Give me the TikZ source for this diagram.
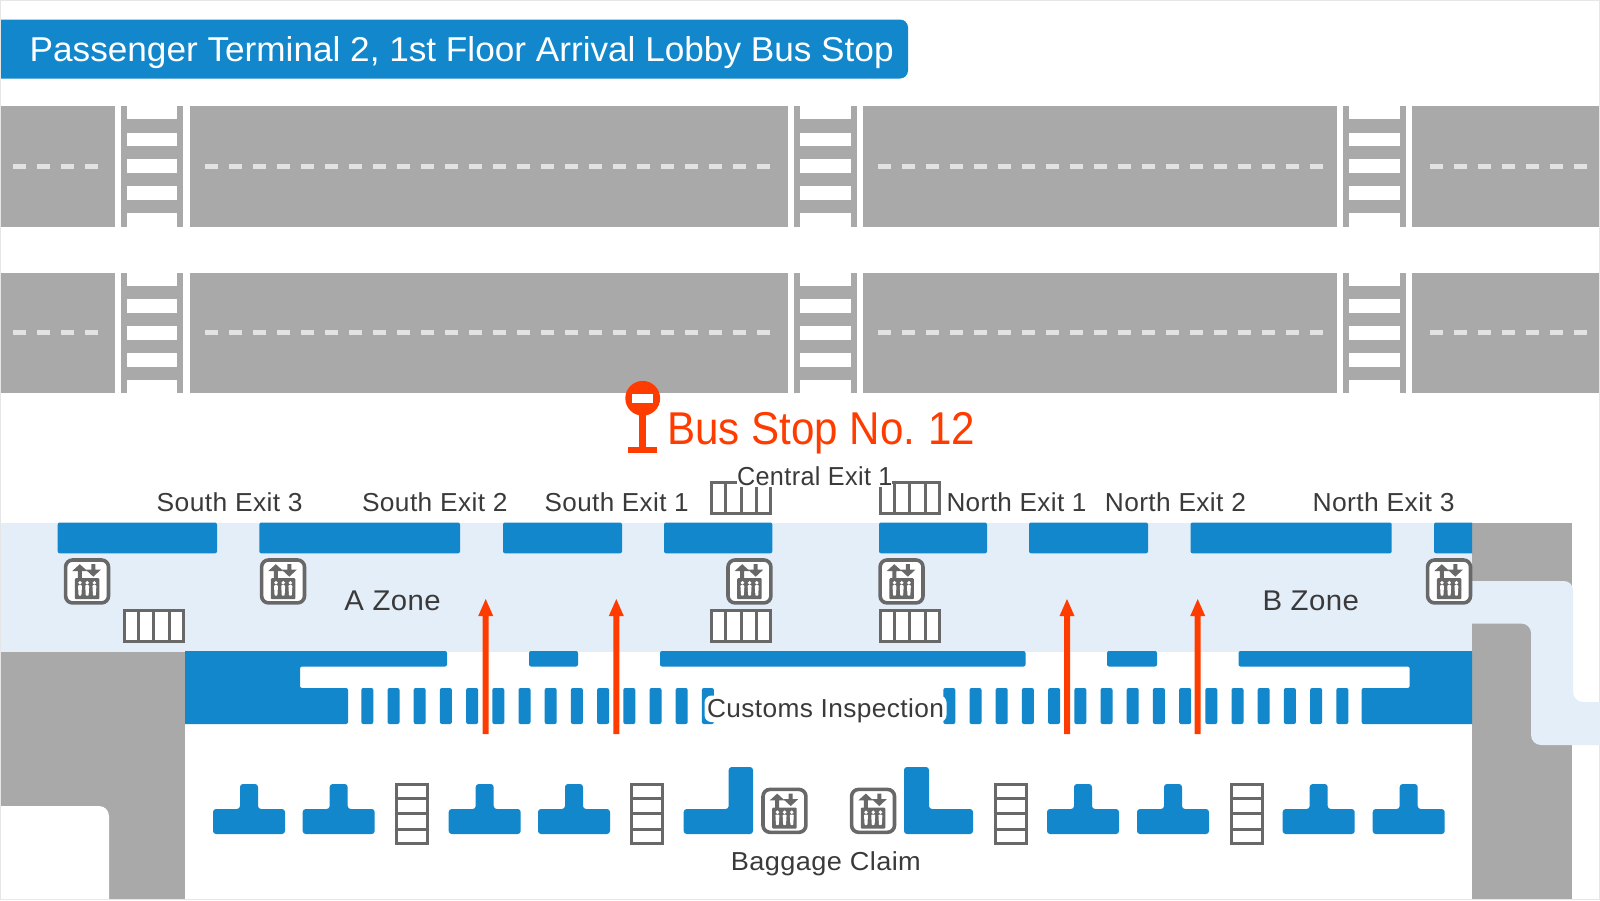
\documentclass[tikz,border=0pt]{standalone}
\usepackage{fontspec}
\usepackage{graphicx}
\setmainfont{Liberation Sans}
\newfontfamily\spacedsans[LetterSpace=1.5]{Liberation Sans}
\definecolor{mapblue}{HTML}{1287CC}
\definecolor{zonepale}{HTML}{E4EEF9}
\definecolor{roadgrey}{HTML}{A9A9A9}
\definecolor{dashgrey}{HTML}{E2E2E2}
\definecolor{icongrey}{HTML}{686868}
\definecolor{labelc}{HTML}{3A3A3A}
\definecolor{redc}{HTML}{FF3C00}
\definecolor{framec}{HTML}{E6E6E6}
\newsavebox\fitbox
\newcommand\fitw[2]{\sbox\fitbox{#2}\pgfmathsetmacro\fitr{#1/\the\wd\fitbox}\scalebox{\fitr}[1]{\usebox\fitbox}}
\newcommand\lab[6]{\node[labeltext] (#1) at (#2,#3) {\fitw{#4}{\fontsize{#5}{#5}\selectfont\spacedsans #6}};}
\tikzset{
  labeltext/.style={anchor=base west,inner sep=0pt,text=labelc},
  gridline/.style={draw=icongrey,line width=3pt,fill=white},
  bluefill/.style={fill=mapblue,rounded corners=2pt},
  hgrid/.pic={
    \draw[gridline] (1.5,1.5) rectangle (60.5,32.5);
    \foreach \i in {15.5,30.9,46.3} \draw[draw=icongrey,line width=3pt] (\i,0) -- (\i,34);
  },
  vgrid/.pic={
    \draw[gridline] (1.5,1.5) rectangle (32.5,60.5);
    \foreach \i in {15.5,30.9,46.3} \draw[draw=icongrey,line width=3pt] (0,\i) -- (34,\i);
  },
  tclaim/.pic={
    \fill[fill=mapblue,rounded corners=3pt] (0,25) -- (27,25) -- (27,0) -- (45,0) -- (45,25) -- (72,25) -- (72,50) -- (0,50) -- cycle;
  },
  elevicon/.pic={
    \draw[draw=icongrey,fill=white,line width=3.6pt,rounded corners=7pt] (1.8,1.8) rectangle (44.7,44.7);
    \fill[icongrey,rounded corners=1pt] (11,20) rectangle (35.5,41);
    \fill[icongrey] (16,6) -- (23.5,12.8) -- (18,12.8) -- (18,21) -- (14,21) -- (14,12.8) -- (8.5,12.8) -- cycle;
    \fill[icongrey] (29.5,18.5) -- (22,11.5) -- (27.5,11.5) -- (27.5,6) -- (31.5,6) -- (31.5,11.5) -- (37,11.5) -- cycle;
    \foreach \i in {16.2,23.4,30.6} {
      \fill[white] (\i,24.6) circle (1.9pt);
      \fill[white,rounded corners=.8pt] (\i-2,27) -- (\i+2,27) -- (\i+1.4,37.5) -- (\i-1.4,37.5) -- cycle;
    }
  },
  roadpiece/.pic={
    \foreach \a/\b in {1/114.7,189.5/788,863/1337,1411.7/1598.5} \fill[roadgrey] (\a,0) rectangle (\b,120.5);
    \foreach \a in {121,794.4,1343.3} {
      \fill[roadgrey] (\a,0) rectangle (\a+62.2,120.5);
      \foreach \s/\e in {0/13.3,26.7/40,53.4/67,80.2/93.8,107.2/120.5}
        \fill[white] (\a+6,\s) rectangle (\a+56.3,\e);
    }
    \foreach \s/\n in {13.3/3,205.3/23,878.3/18,1430/6}
      \foreach \k in {0,...,\n}
        \fill[dashgrey] (\s+24*\k,57.6) rectangle (\s+24*\k+12.7,62.6);
  },
  redarrow/.style={fill=redc},
}
\begin{document}
\begin{tikzpicture}[x=1pt,y=-1pt]
\useasboundingbox (0,0) rectangle (1600,900);
\fill[white] (0,0) rectangle (1600,900);
\draw[framec,line width=1pt] (.5,.5) rectangle (1599.5,899.5);

% title banner
\fill[mapblue] (1,19.5) -- (900,19.5) .. controls (904.4,19.5) and (908,23.1) .. (908,27.5) -- (908,70.5) .. controls (908,74.9) and (904.4,78.5) .. (900,78.5) -- (1,78.5) -- cycle;
\node[anchor=base west,inner sep=0pt,text=white] (title) at (29.5,61) {\fitw{864}{\fontsize{34.5}{34.5}\selectfont Passenger Terminal 2, 1st Floor Arrival Lobby Bus Stop}};

% roads
\pic at (0,106) {roadpiece};
\pic at (0,272.7) {roadpiece};

% terminal floors
\fill[roadgrey] (1,651) rectangle (185,899);
\fill[white] (1,806) -- (99,806) .. controls (104.5,806) and (109,810.5) .. (109,816) -- (109,899) -- (1,899) -- cycle;
\fill[roadgrey] (1472,522.5) rectangle (1572,899);
\fill[zonepale] (1,522.5) rectangle (1472,651.5);
\fill[zonepale] (1472,581) -- (1564,581) .. controls (1569,581) and (1573,585) .. (1573,590) -- (1573,692) .. controls (1573,697.5) and (1577.5,702) .. (1583,702) -- (1600,702) -- (1600,745) -- (1541,745) .. controls (1535.5,745) and (1531,740.5) .. (1531,735) -- (1531,633) .. controls (1531,627.8) and (1526.7,623.5) .. (1521.5,623.5) -- (1472,623.5) -- cycle;

% exit doors
\foreach \a/\b in {57.7/217,259.3/460,503/622,664/772.3,879/987,1029/1148,1190.5/1391.7}
  \fill[bluefill] (\a,522.5) rectangle (\b,553.3);
\fill[mapblue] (1472,522.5) -- (1436,522.5) .. controls (1434.9,522.5) and (1434,523.4) .. (1434,524.5) -- (1434,551.3) .. controls (1434,552.4) and (1434.9,553.3) .. (1436,553.3) -- (1472,553.3) -- cycle;

% customs walls
\fill[mapblue] (185,651) [rounded corners=2pt] -- (447,651) -- (447,666.5) -- (300,666.5) -- (300,688) -- (348,688) -- (348,724) [sharp corners] -- (185,724) -- cycle;
\fill[mapblue] (1472,651) [rounded corners=2pt] -- (1238.5,651) -- (1238.5,666.5) -- (1409.7,666.5) -- (1409.7,688) -- (1361.7,688) -- (1361.7,724) [sharp corners] -- (1472,724) -- cycle;
\foreach \a/\b in {529/578,660/1025.5,1107/1157}
  \fill[bluefill] (\a,651) rectangle (\b,666.5);
\foreach \k in {0,...,13}
  \fill[bluefill] (361.3+26.2*\k,688) rectangle (373.3+26.2*\k,724);
\foreach \k in {0,...,15}
  \fill[bluefill] (943.3+26.2*\k,688) rectangle (955.3+26.2*\k,724);

% baggage carousels
\foreach \x in {213,302.7,448.7,538,1047,1137,1282.7,1372.7}
  \pic at (\x,784) {tclaim};
\fill[fill=mapblue,rounded corners=3pt] (683.7,809) -- (728.7,809) -- (728.7,767) -- (753,767) -- (753,834) -- (683.7,834) -- cycle;
\fill[fill=mapblue,rounded corners=3pt] (904,767) -- (929,767) -- (929,809) -- (973,809) -- (973,834) -- (904,834) -- cycle;

% stairs
\foreach \x/\y in {123/609,710.3/609,878.8/609,710.3/480.7,878.8/480.7}
  \pic at (\x,\y) {hgrid};
\foreach \x in {395,630,993.5,1229.7}
  \pic at (\x,783) {vgrid};

% elevators
\foreach \x/\y in {63.8/558.2,259.8/558.2,726.2/558.2,878.3/558.2,1425.8/558.2,761.2/787.6,849.8/787.6}
  \pic at (\x,\y) {elevicon};

% arrows of the route to the exits
\foreach \x in {485.7,616.3,1067,1197.7}
  \fill[redarrow] (\x,599) -- (\x+7.5,616) -- (\x+3,616) -- (\x+3,734) -- (\x-3,734) -- (\x-3,616) -- (\x-7.5,616) -- cycle;

% white halos of the labels
\fill[white,rounded corners=7pt] (704.5,695.5) rectangle (946.5,722);
\fill[white] (736.5,458) rectangle (892,487);

% bus stop sign
\fill[redc] (639,410) rectangle (646.4,448);
\fill[redc] (627.7,446.7) rectangle (657,453.4);
\fill[redc] (642.7,398.3) circle (17.4pt);
\fill[white] (631.7,394) rectangle (652.9,403.4);
\node[anchor=base west,inner sep=0pt,text=redc] (busstop) at (667,444) {\fitw{308}{\fontsize{46}{46}\selectfont Bus Stop No.\hspace{-.06em} 12}};

% labels
\lab{se3}{156.5}{511.7}{146}{26}{South Exit 3}
\lab{se2}{361.8}{511.7}{145.5}{26}{South Exit 2}
\lab{se1}{544.5}{511.7}{144}{26}{South Exit 1}
\lab{ce1}{736.8}{485}{155.5}{26}{Central Exit 1}
\lab{ne1}{946.3}{511.7}{140}{26}{North Exit 1}
\lab{ne2}{1104.7}{511.7}{141}{26}{North Exit 2}
\lab{ne3}{1312.3}{511.7}{142}{26}{North Exit 3}
\lab{azone}{344.2}{610.7}{96.3}{28.5}{A Zone}
\lab{bzone}{1262.3}{610.7}{96.5}{28.5}{B Zone}
\lab{customs}{706.8}{717.5}{237}{26}{Customs Inspection}
\lab{baggage}{730.7}{870}{190}{26}{Baggage Claim}
\end{tikzpicture}
\end{document}
